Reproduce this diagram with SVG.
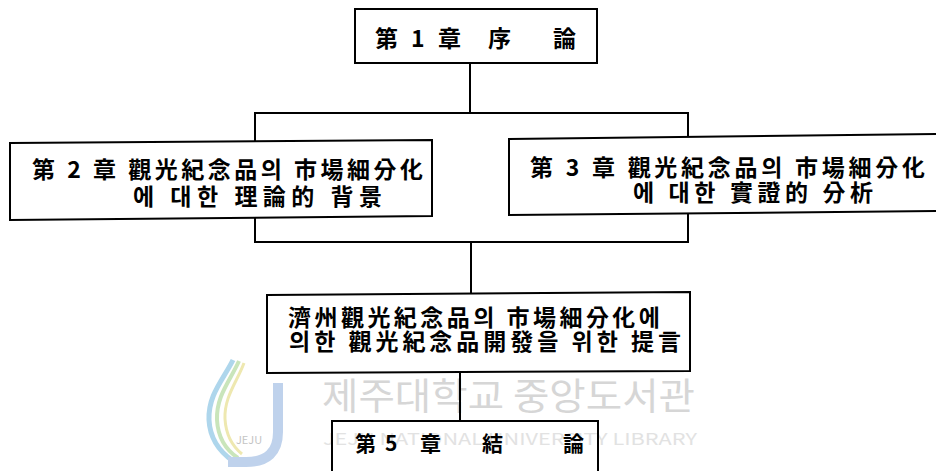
<svg xmlns="http://www.w3.org/2000/svg" width="936" height="471" viewBox="0 0 936 471">
<style>
.box{fill:none;stroke:#000;stroke-width:2}
.conn{fill:none;stroke:#000;stroke-width:2}
.t{font-family:"Noto Sans CJK KR","Noto Sans CJK JP",sans-serif;font-weight:700;fill:#000}
.wm{font-family:"Noto Sans CJK KR","Noto Sans",sans-serif;font-weight:400}
</style>
<rect x="0" y="0" width="936" height="471" fill="#fff"/>
<g id="watermark">
<path d="M233 360 C223 380 208 395 209 420 C210 440 220 452 233 461" fill="none" stroke="#aed6ec" stroke-width="5"/>
<path d="M239 361 C230 381 216 396 217 420 C218 438 226 450 238 458" fill="none" stroke="#c9e5bb" stroke-width="4"/>
<path d="M244 363 C237 382 224 397 225 419 C226 435 232 446 242 454" fill="none" stroke="#eee8b0" stroke-width="3"/>
<path d="M278 383 V432 Q278 462 246 462 H228" fill="none" stroke="#bfd2ec" stroke-width="10"/>
<text x="249" y="444" class="wm" font-size="11" fill="#c4c4c4" text-anchor="middle">JEJU</text>
<text x="322" y="410" class="wm" font-size="37" fill="#d6d6d6" textLength="373" lengthAdjust="spacingAndGlyphs">제주대학교 중앙도서관</text>
<text x="323" y="445" class="wm" font-size="16.5" fill="#e2e2e2" textLength="374" lengthAdjust="spacingAndGlyphs">JEJU NATIONAL UNIVERSITY LIBRARY</text>
</g>
<g id="connectors">
<path class="conn" d="M470 63 V113"/>
<path class="conn" d="M255 142 V113 H688 V137"/>
<path class="conn" d="M255 218 V242 H688 V213"/>
<path class="conn" d="M471 242 V293"/>
<path class="conn" d="M460 372 V421"/>
</g>
<g id="node-ch1">
<rect class="box" x="355" y="9" width="242" height="54"/>
<text class="t" font-size="23" y="47"><tspan x="375">第</tspan><tspan x="411">1</tspan><tspan x="438">章</tspan><tspan x="488">序</tspan><tspan x="553">論</tspan></text>
</g>
<g id="node-ch2">
<polygon class="box" points="10,143 432,140 432,216 10,220"/>
<text class="t" font-size="23" x="32" y="178" textLength="391" lengthAdjust="spacing">第 2 章 觀光紀念品의 市場細分化</text>
<text class="t" font-size="23" x="133" y="205" textLength="249" lengthAdjust="spacing">에 대한 理論的 背景</text>
</g>
<g id="node-ch3">
<polygon class="box" points="509,139 945,134 945,211 509,215"/>
<text class="t" font-size="23" x="530" y="176" textLength="395" lengthAdjust="spacing">第 3 章 觀光紀念品의 市場細分化</text>
<text class="t" font-size="23" x="633" y="201" textLength="240" lengthAdjust="spacing">에 대한 實證的 分析</text>
</g>
<g id="node-ch4">
<polygon class="box" points="267,295 690,292 690,371 267,373"/>
<text class="t" font-size="23" x="288" y="326" textLength="372" lengthAdjust="spacing">濟州觀光紀念品의 市場細分化에</text>
<text class="t" font-size="23" x="289" y="350" textLength="392" lengthAdjust="spacing">의한 觀光紀念品開發을 위한 提言</text>
</g>
<g id="node-ch5">
<path class="box" d="M332 475 V421 H598 V475"/>
<text class="t" font-size="21" y="451"><tspan x="355">第</tspan><tspan x="385">5</tspan><tspan x="420">章</tspan><tspan x="482">結</tspan><tspan x="563">論</tspan></text>
</g>
</svg>
